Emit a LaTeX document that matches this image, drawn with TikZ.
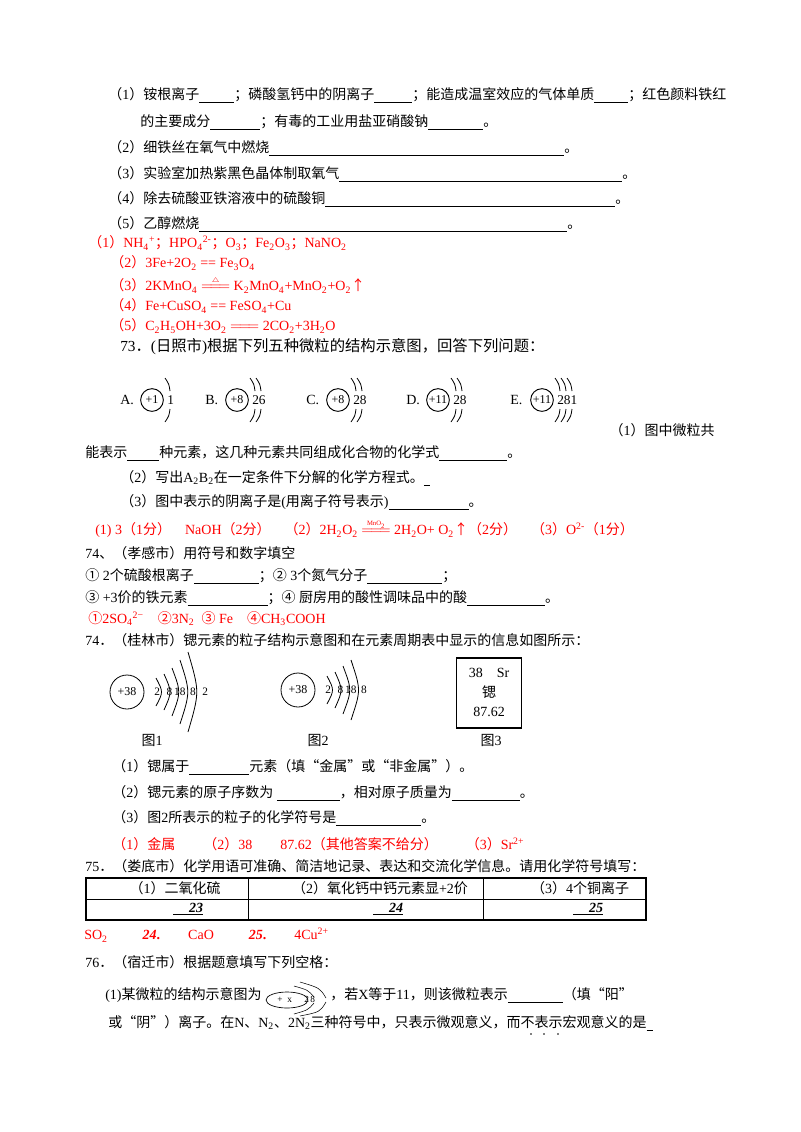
\documentclass[tikz,border=0pt]{standalone}
\usepackage{fontspec}
\setmainfont{Liberation Serif}
\newfontfamily\cjk{Noto Sans CJK SC}
\newfontfamily\latn{Liberation Serif}
\XeTeXinterchartokenstate=1
\newXeTeXintercharclass\CJKcls
\newcount\cc
\cc="3000 \loop \XeTeXcharclass\cc=\CJKcls \advance\cc 1 \ifnum\cc<"A000 \repeat
\cc="FF00 \loop \XeTeXcharclass\cc=\CJKcls \advance\cc 1 \ifnum\cc<"FFF0 \repeat
\cc="2460 \loop \XeTeXcharclass\cc=\CJKcls \advance\cc 1 \ifnum\cc<"2474 \repeat
\cc="2190 \loop \XeTeXcharclass\cc=\CJKcls \advance\cc 1 \ifnum\cc<"2194 \repeat
\XeTeXcharclass"201C=\CJKcls \XeTeXcharclass"201D=\CJKcls \XeTeXcharclass"3001=\CJKcls
\XeTeXinterchartoks 0 \CJKcls = {\cjk}
\XeTeXinterchartoks 4095 \CJKcls = {\cjk}
\XeTeXinterchartoks \CJKcls 0 = {\latn}
\XeTeXinterchartoks \CJKcls 4095 = {\latn}
\newcommand\blank[1]{\rule[-2pt]{\dimexpr 0.75pt*#1\relax}{0.5pt}}
\newcommand\sub[1]{\textsubscript{#1}}
\newcommand\sups[1]{\textsuperscript{#1}}
\newcommand\eqq[1]{\ensuremath{\mathrel{\mathop{=\!=\!=}\limits^{\mbox{\tiny #1}}}}}
\tikzset{t/.style={anchor=west,inner sep=0pt,font=\fontsize{10.5}{12}\selectfont},
 r/.style={t,text=red},
 sh/.style={line width=0.6pt},
 nuc/.style={circle,draw,line width=0.7pt,inner sep=0pt,font=\fontsize{9}{10}\selectfont}}
\begin{document}
\begin{tikzpicture}[x=0.75pt,y=-0.75pt]
\useasboundingbox (0,0) rectangle (800,1132);
\fill[white] (0,0) rectangle (800,1132);
% Q part
\node[t] (l1) at (108,95) {（1）铵根离子\blank{35}；磷酸氢钙中的阴离子\blank{38}；能造成温室效应的气体单质\blank{34}；红色颜料铁红};
\node[t] (l2) at (140,122) {的主要成分\blank{50}；有毒的工业用盐亚硝酸钠\blank{55}。};
\node[t] (l3) at (108,148) {（2）细铁丝在氧气中燃烧\blank{295}。};
\node[t] (l4) at (108,174) {（3）实验室加热紫黑色晶体制取氧气\blank{283}。};
\node[t] (l5) at (108,199) {（4）除去硫酸亚铁溶液中的硫酸铜\blank{290}。};
\node[t] (l6) at (108,224) {（5）乙醇燃烧\blank{368}。};
\node[r] (a1) at (88,243) {（1）NH\sub4\sups{+}；HPO\sub4\sups{2-}；O\sub3；Fe\sub2O\sub3；NaNO\sub2};
\node[r] (a2) at (110,263) {（2）3Fe+2O\sub2 == Fe\sub3O\sub4};
\node[r] (a3) at (110,285) {（3）2KMnO\sub4 \eqq{$\triangle$} K\sub2MnO\sub4+MnO\sub2+O\sub2↑};
\node[r] (a4) at (110,306) {（4）Fe+CuSO\sub4 == FeSO\sub4+Cu};
\node[r] (a5) at (110,326) {（5）C\sub2H\sub5OH+3O\sub2 \eqq{} 2CO\sub2+3H\sub2O};
% 73
\node[t,font=\fontsize{11.5}{13}\selectfont] (q73) at (120,347) {73．(日照市)根据下列五种微粒的结构示意图，回答下列问题：};
\foreach \nm/\lab/\cx/\z/\shl/\n in {A/A./152/+1/1/1, B/B./237/+8/26/2, C/C./338/+8/28/2, D/D./438/+11/28/2, E/E./542/+11/281/3}{
  \node[t,font=\fontsize{10.5}{12}\selectfont] (lab\nm) at (\cx-32,400) {\lab};
  \node[nuc,minimum size=17pt] (n\nm) at (\cx,400) {\z};
  \node[t,font=\fontsize{10}{12}\selectfont] (s\nm) at (\cx+15,400) {\shl};
  \foreach \k in {1,...,\n}{
    \draw[sh] (\cx+7+6*\k,378) .. controls (\cx+11+6*\k,384) .. (\cx+12+6*\k,391);
    \draw[sh] (\cx+7+6*\k,422) .. controls (\cx+11+6*\k,416) .. (\cx+12+6*\k,409);
  }
}
\node[t,anchor=east] (b1) at (715,430) {（1）图中微粒共};
\node[t] (b2) at (85,453) {能表示\blank{32}种元素，这几种元素共同组成化合物的化学式\blank{68}。};
\node[t] (b3) at (120,478) {（2）写出A\sub2B\sub2在一定条件下分解的化学方程式。\blank{6}};
\node[t] (b4) at (120,502) {（3）图中表示的阴离子是(用离子符号表示)\blank{80}。};
\node[r] (b5) at (95,529) {(1) 3（1分）\quad NaOH（2分）\quad（2）2H\sub2O\sub2 \eqq{MnO\sub2} 2H\sub2O+ O\sub2↑（2分）\quad（3）O\sups{2-}（1分）};
% 74 xiaogan
\node[t] (c1) at (85,553) {74、（孝感市）用符号和数字填空};
\node[t] (c2) at (85,576) {① 2个硫酸根离子\blank{65}；② 3个氮气分子\blank{75}；};
\node[t] (c3) at (85,598) {③ +3价的铁元素\blank{80}；④ 厨房用的酸性调味品中的酸\blank{78}。};
\node[r] (c4) at (88,619) {①2SO\sub4\sups{2−}\quad ②3N\sub2\enspace ③ Fe\quad ④CH\sub3COOH};
% 74 guilin
\node[t] (d1) at (85,640) {74．（桂林市）锶元素的粒子结构示意图和在元素周期表中显示的信息如图所示：};
\node[nuc,minimum size=25.5pt,line width=0.6pt] (f1) at (127,692) {+38};
\node[t,font=\fontsize{8.5}{10}\selectfont] (f1s) at (154,692) {2\,\, 8\,18\, 8\,\, 2};
\foreach \k/\h in {1/14,2/18,3/24,4/32,5/40}{
  \draw[sh] (148+8*\k,692-\h) .. controls (153+8*\k+\h/6,692) .. (148+8*\k,692+\h);
}
\node[nuc,minimum size=25.5pt,line width=0.6pt] (f2) at (298,690) {+38};
\node[t,font=\fontsize{8.5}{10}\selectfont] (f2s) at (325,690) {2\,\, 8\,18\, 8};
\foreach \k/\h in {1/14,2/18,3/24,4/30}{
  \draw[sh] (319+8*\k,690-\h) .. controls (324+8*\k+\h/6,690) .. (319+8*\k,690+\h);
}
\node[draw,line width=0.8pt,minimum width=49pt,minimum height=52.5pt,inner sep=0pt] (box) at (489,693) {};
\node[t,anchor=center] (bx1) at (489,673) {38\quad Sr};
\node[t,anchor=center] (bx2) at (489,692) {锶};
\node[t,anchor=center] (bx3) at (489,712) {87.62};
\node[t,anchor=center] (g1) at (152,740) {图1};
\node[t,anchor=center] (g2) at (318,740) {图2};
\node[t,anchor=center] (g3) at (491,740) {图3};
\node[t] (d2) at (112,767) {（1）锶属于\blank{60}元素（填“金属”或“非金属”）。};
\node[t] (d3) at (112,793) {（2）锶元素的原子序数为 \blank{63}，相对原子质量为\blank{68}。};
\node[t] (d4) at (112,818) {（3）图2所表示的粒子的化学符号是\blank{85}。};
\node[r] (d5) at (112,844) {（1）金属\qquad（2）38\qquad 87.62（其他答案不给分）\qquad（3）Sr\sups{2+}};
% 75
\node[t] (e1) at (85,866) {75．（娄底市）化学用语可准确、简洁地记录、表达和交流化学信息。请用化学符号填写：};
\draw[line width=0.8pt] (86,878) rectangle (646,920);
\draw[line width=0.6pt] (86,899) -- (646,899) (248,878) -- (248,920) (483,878) -- (483,920);
\node[t,anchor=center] (e2) at (175,888) {（1）二氧化硫};
\node[t,anchor=center] (e3) at (380,888) {（2）氧化钙中钙元素显+2价};
\node[t,anchor=center] (e4) at (580,888) {（3）4个铜离子};
\node[t,anchor=center] (e5) at (188,909) {\underline{\hspace{12pt}\textbf{\textit{23}}}};
\node[t,anchor=center] (e6) at (388,909) {\underline{\hspace{12pt}\textbf{\textit{24}}}};
\node[t,anchor=center] (e7) at (588,909) {\underline{\hspace{12pt}\textbf{\textit{25}}}};
\node[r] (e8) at (84,935) {SO\sub2\qquad\enspace\textbf{\textit{24}.}\qquad CaO\qquad\enspace\textbf{\textit{25}.}\qquad 4Cu\sups{2+}};
% 76
\node[t] (h1) at (85,962) {76．（宿迁市）根据题意填写下列空格：};
\node[t] (h2) at (105,995) {(1)某微粒的结构示意图为};
\draw[line width=0.5pt] (287,1000) ellipse (15.75pt and 6pt);
\node[t,font=\fontsize{7}{8}\selectfont] (h3) at (277,1000) {+\; x};
\node[t,font=\fontsize{7}{8}\selectfont] (h4) at (304,999) {2\,8};
\draw[line width=0.4pt] (300,982) .. controls (320,988) .. (326,998) (300,1016) .. controls (320,1012) .. (326,1002);
\draw[line width=0.4pt] (294,986) .. controls (308,990) .. (314,997) (294,1014) .. controls (308,1010) .. (314,1003);
\node[t] (h5) at (330,995) {，若X等于11，则该微粒表示\blank{55}（填“阳”};
\node[t] (h6) at (108,1023) {或“阴”）离子。在N、N\sub2、2N\sub2三种符号中，只表示微观意义，而不表示宏观意义的是\blank{6}};
\foreach \xx in {531,544,558}{\fill (\xx,1034) circle (0.9);}
\end{tikzpicture}
\end{document}
